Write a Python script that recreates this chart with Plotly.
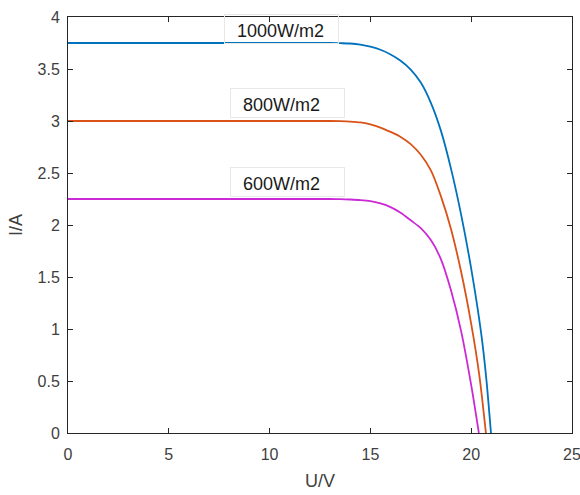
import plotly.graph_objects as go

# I-V characteristics of a PV module at three irradiance levels
u_1000 = [0, 5, 10, 12, 13, 13.5, 14, 14.5, 15, 15.5, 16, 16.5, 17, 17.5, 18, 18.5, 19, 19.5, 20, 20.5, 20.75, 20.98]
i_1000 = [3.75, 3.75, 3.75, 3.75, 3.75, 3.748, 3.745, 3.735, 3.715, 3.685, 3.64, 3.58, 3.495, 3.37, 3.175, 2.905, 2.54, 2.10, 1.58, 0.95, 0.52, 0.0]

u_800 = [0, 5, 10, 12, 13, 13.5, 14, 14.5, 15, 15.5, 16, 16.5, 17, 17.5, 18, 18.5, 19, 19.5, 20, 20.4, 20.73]
i_800 = [3.0, 3.0, 3.0, 3.0, 3.0, 2.998, 2.994, 2.986, 2.967, 2.937, 2.895, 2.847, 2.778, 2.675, 2.525, 2.275, 1.96, 1.55, 1.05, 0.56, 0.0]

u_600 = [0, 5, 10, 12, 13, 13.5, 14, 14.5, 15, 15.5, 16, 16.5, 17, 17.5, 18, 18.5, 19, 19.5, 20, 20.38]
i_600 = [2.25, 2.25, 2.25, 2.25, 2.25, 2.248, 2.245, 2.24, 2.23, 2.207, 2.172, 2.118, 2.045, 1.97, 1.855, 1.67, 1.37, 0.98, 0.46, 0.0]

labels = ["1000W/m2", "800W/m2", "600W/m2"]
label_u = [10.6, 10.9, 10.9]
label_i = [3.885, 3.173, 2.413]

colors = ["#0072BD", "#D95319", "#CC29D6"]
FONT = "Liberation Sans, Arial, sans-serif"

fig = go.Figure()
for u, i, c, name in zip([u_1000, u_800, u_600], [i_1000, i_800, i_600], colors, labels):
    fig.add_trace(go.Scatter(x=u, y=i, mode="lines", name=name,
                             line=dict(color=c, width=1.8, shape="spline", smoothing=0.8)))

for t, x, y in zip(labels, label_u, label_i):
    fig.add_annotation(x=x, y=y, text="\u00a0\u00a0" + t, showarrow=False,
                       font=dict(family=FONT, size=18, color="#1a1a1a"),
                       width=109, height=24, align="left", valign="bottom",
                       bordercolor="#e8e8e8", borderwidth=1, borderpad=2)

axis_common = dict(showgrid=False, zeroline=False, showline=True, mirror="ticks",
                   linecolor="#262626", linewidth=1, ticks="inside", ticklen=5,
                   tickcolor="#262626", ticklabeloverflow="allow", automargin=False,
                   tickfont=dict(family=FONT, size=16, color="#404040"))

fig.update_xaxes(range=[0, 25], tickvals=[0, 5, 10, 15, 20, 25], ticklabelstandoff=7,
                 title=dict(text="U/V", font=dict(family=FONT, size=18, color="#404040"), standoff=12),
                 **axis_common)
fig.update_yaxes(range=[0, 4], tickvals=[0, 0.5, 1, 1.5, 2, 2.5, 3, 3.5, 4],
                 ticktext=["0", "0.5", "1", "1.5", "2", "2.5", "3", "3.5", "4"],
                 ticklabelstandoff=4,
                 title=dict(text="I/A", font=dict(family=FONT, size=18, color="#404040"), standoff=10),
                 **axis_common)

fig.update_layout(width=580, height=495, showlegend=False,
                  plot_bgcolor="white", paper_bgcolor="white",
                  margin=dict(l=68, r=8, t=17, b=62))

fig.write_html("out.html")
